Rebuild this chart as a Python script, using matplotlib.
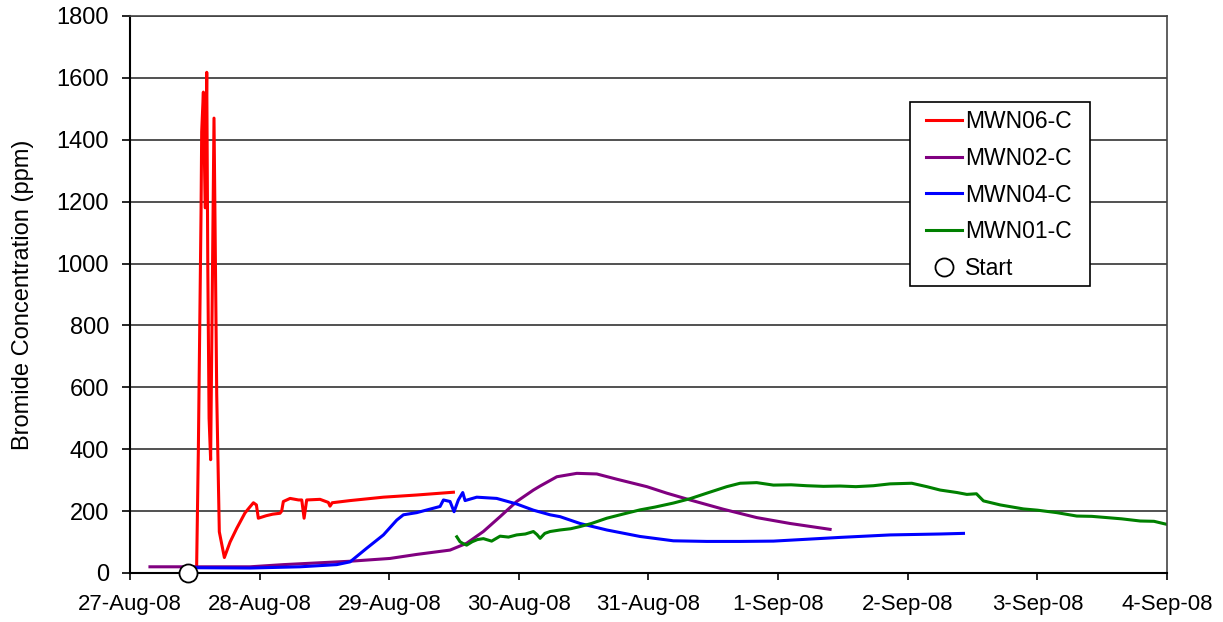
import datetime as dt
import matplotlib
matplotlib.use("Agg")
import matplotlib.pyplot as plt
import matplotlib.dates as mdates
from matplotlib.patches import Rectangle

plt.rcParams['font.family'] = ['Liberation Sans', 'DejaVu Sans']

t0 = dt.datetime(2008, 8, 27)

# time in days after 27-Aug-08 00:00, concentration in ppm
mwn06_days = [0.514, 0.527, 0.548, 0.553, 0.566, 0.580, 0.592, 0.600, 0.610, 0.622,
              0.648, 0.669, 0.689, 0.728, 0.772, 0.823, 0.887, 0.926, 0.952, 0.975,
              0.990, 1.050, 1.100, 1.157, 1.170, 1.183, 1.235, 1.300, 1.325, 1.343,
              1.363, 1.466, 1.530, 1.543, 1.560, 1.698, 1.955, 2.212, 2.495]
mwn06_ppm = [20, 388, 1165, 1426, 1554, 1180, 1618, 1000, 500, 366,
             1470, 577, 133, 50, 100, 144, 194, 214, 227, 220,
             177, 185, 190, 193, 200, 231, 241, 236, 236, 177,
             236, 238, 228, 216, 227, 234, 245, 252, 261]

mwn02_days = [0.154, 0.5, 0.926, 1.183, 1.698, 2.006, 2.212, 2.469, 2.597, 2.726,
              2.855, 2.983, 3.112, 3.164, 3.293, 3.447, 3.601, 3.756, 3.987, 4.141,
              4.321, 4.578, 4.835, 5.092, 5.401]
mwn02_ppm = [20, 20, 20, 27, 38, 47, 60, 74, 96, 134,
             182, 231, 268, 281, 311, 322, 320, 303, 279, 258,
             236, 206, 179, 160, 141]

mwn04_days = [0.514, 0.926, 1.312, 1.595, 1.698, 1.826, 1.955, 2.058, 2.109, 2.212,
              2.392, 2.418, 2.469, 2.500, 2.533, 2.567, 2.585, 2.675, 2.829, 2.983,
              3.112, 3.241, 3.318, 3.472, 3.678, 3.935, 4.192, 4.450, 4.707, 4.964,
              5.221, 5.478, 5.864, 6.250, 6.430]
mwn04_ppm = [17, 16, 20, 27, 36, 80, 123, 171, 188, 195,
             215, 236, 231, 198, 236, 260, 234, 245, 241, 223,
             203, 188, 182, 160, 139, 118, 104, 102, 102, 103,
             109, 115, 123, 126, 128]

mwn01_days = [2.521, 2.546, 2.570, 2.597, 2.640, 2.680, 2.726, 2.790, 2.855, 2.920,
              2.983, 3.050, 3.112, 3.140, 3.164, 3.200, 3.241, 3.318, 3.400, 3.472,
              3.560, 3.678, 3.800, 3.935, 4.050, 4.192, 4.320, 4.450, 4.604, 4.707,
              4.835, 4.964, 5.100, 5.221, 5.350, 5.478, 5.600, 5.735, 5.864, 6.031,
              6.147, 6.250, 6.380, 6.456, 6.530, 6.584, 6.713, 6.893, 7.000, 7.150,
              7.304, 7.420, 7.536, 7.650, 7.793, 7.900, 8.000]
mwn01_ppm = [117, 101, 95, 90, 101, 108, 111, 103, 119, 116,
             123, 126, 134, 124, 112, 128, 134, 139, 143, 150,
             160, 177, 190, 204, 213, 226, 240, 258, 279, 290,
             292, 284, 285, 282, 280, 281, 279, 282, 288, 290,
             279, 268, 260, 254, 256, 233, 220, 207, 203, 195,
             184, 183, 179, 175, 168, 167, 157]

start_day = [0.447]
start_ppm = [0]

series = [
    ("MWN06-C", mwn06_days, mwn06_ppm, "#ff0000"),
    ("MWN02-C", mwn02_days, mwn02_ppm, "#800080"),
    ("MWN04-C", mwn04_days, mwn04_ppm, "#0000ff"),
    ("MWN01-C", mwn01_days, mwn01_ppm, "#008000"),
]


def to_dates(days):
    return [t0 + dt.timedelta(days=d) for d in days]


fig = plt.figure(figsize=(12.23, 6.22), dpi=100)
ax = fig.add_axes([0.1063, 0.0788, 0.9542 - 0.1063, 0.9743 - 0.0788])

for name, days, ppm, col in series:
    ax.plot(to_dates(days), ppm, color=col, lw=2.2, label=name)

ax.plot(to_dates(start_day), start_ppm, 'o', ms=13, mfc='white', mec='black',
        mew=1.3, label='Start', clip_on=False, zorder=5)

ax.set_xlim(t0, t0 + dt.timedelta(days=8))
ax.set_ylim(0, 1800)
ax.set_yticks(range(0, 1801, 200))
ax.xaxis.set_major_locator(mdates.DayLocator())
ax.xaxis.set_major_formatter(mdates.DateFormatter('%-d-%b-%y'))
ax.grid(axis='y', color='#333333', lw=1.2)
ax.set_axisbelow(True)
ax.tick_params(direction='out', width=1.2)
ax.tick_params(axis='y', length=6, pad=9, labelsize=17)
ax.tick_params(axis='x', length=5, pad=10, labelsize=16)
for s in ['left', 'bottom']:
    ax.spines[s].set_linewidth(1.5)
for s in ['top', 'right']:
    ax.spines[s].set_color('#444444')
    ax.spines[s].set_linewidth(1.2)
ax.set_ylabel('Bromide Concentration (ppm)', fontsize=17)
ax.yaxis.set_label_coords(-0.0926, 0.5)

# legend box drawn separately so its padding can match the original
ax.add_patch(Rectangle((0.7522, 0.5153), 0.9257 - 0.7522, 0.8456 - 0.5153,
                       transform=ax.transAxes, facecolor='white',
                       edgecolor='black', lw=1.2, zorder=4))
leg = ax.legend(loc='upper left', bbox_to_anchor=(0.7673, 0.8312), fontsize=16.5,
                frameon=False, handlelength=1.57, labelspacing=0.60,
                borderpad=0, handletextpad=0.15, borderaxespad=0)
leg.set_zorder(6)

fig.savefig('out.png', dpi=100)
